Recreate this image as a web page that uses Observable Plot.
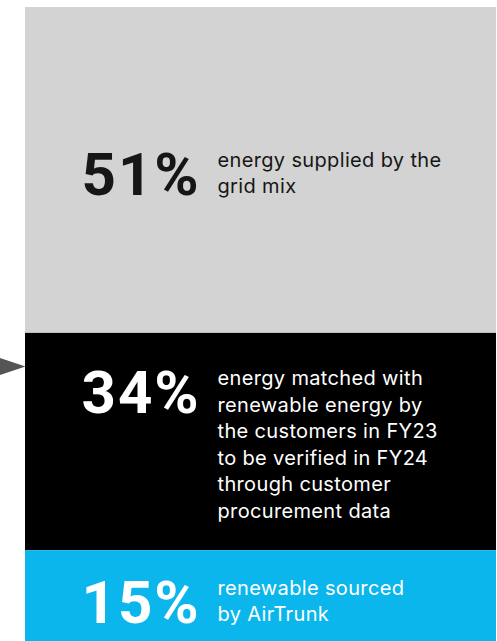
<!DOCTYPE html>
<html>
<head>
<meta charset="utf-8">
<script src="https://cdn.jsdelivr.net/npm/d3@7"></script>
<script src="https://cdn.jsdelivr.net/npm/@observablehq/plot@0.6"></script>
<style>
  html, body { margin: 0; padding: 0; overflow: hidden; background: #fff; }
  #chart svg { display: block; }
</style>
</head>
<body>
<div id="chart"></div>
<script>
const categories = ["Grid mix", "Customer matched", "AirTrunk renewable"];
const shares = [51, 34, 15];
const bigLabels = ["51%", "34%", "15%"];
const notes = [
  "energy supplied by the\ngrid mix",
  "energy matched with\nrenewable energy by\nthe customers in FY23\nto be verified in FY24\nthrough customer\nprocurement data",
  "renewable sourced\nby AirTrunk"
];
const fills = ["#d3d3d3", "#000000", "#0ab6ec"];
const inks = ["#161616", "#ffffff", "#ffffff"];

const ends = Array.from(d3.cumsum(shares));
const rows = categories.map((c, i) => ({
  category: c,
  value: shares[i],
  start: ends[i] - shares[i],
  end: ends[i],
  mid: ends[i] - shares[i] / 2,
  big: bigLabels[i],
  note: notes[i],
  lines: notes[i].split("\n").length
}));

const FS = 20, LHEM = 1.33, LH = FS * LHEM; // label line height
const marks = [
  Plot.rect(rows, {y1: "start", y2: "end", fill: "category"})
];
rows.forEach((r, i) => {
  marks.push(Plot.text([r], {
    y: "mid", text: "big", frameAnchor: "left", dx: 56,
    dy: 5 - (r.lines - 2) / 2 * LH,
    textAnchor: "start", lineAnchor: "middle",
    fontFamily: "Roboto", fontWeight: 700, fontSize: 60,
    fill: inks[i], className: "big"
  }));
  marks.push(Plot.text([r], {
    y: "mid", text: "note", frameAnchor: "left", dx: 192, dy: 1,
    textAnchor: "start", lineAnchor: "middle", lineHeight: LHEM,
    fontFamily: "Inter", fontWeight: 400, fontSize: FS,
    fill: inks[i], className: "note"
  }));
});
// pointer arrow towards the customer-matched segment
const pointer = {
  draw(ctx) {
    ctx.moveTo(0, 0);
    ctx.lineTo(-27, -9);
    ctx.lineTo(-27, 9);
    ctx.closePath();
  }
};
marks.push(Plot.dot([rows[1]], {
  y: "start", frameAnchor: "left", dy: 33,
  symbol: pointer, fill: "#555555", stroke: "none", r: 5
}));

const chart = Plot.plot({
  width: 497,
  height: 646,
  marginTop: 7,
  marginBottom: 0,
  marginLeft: 25,
  marginRight: 1,
  y: {domain: [0, 100], reverse: true, axis: null},
  x: {axis: null},
  color: {domain: categories, range: fills},
  style: {overflow: "visible"},
  marks
});
d3.select(chart).selectAll("g.note").attr("letter-spacing", "0.35px");
d3.select(chart).selectAll("g.big").attr("letter-spacing", "2px");
document.getElementById("chart").append(chart);
</script>
</body>
</html>
